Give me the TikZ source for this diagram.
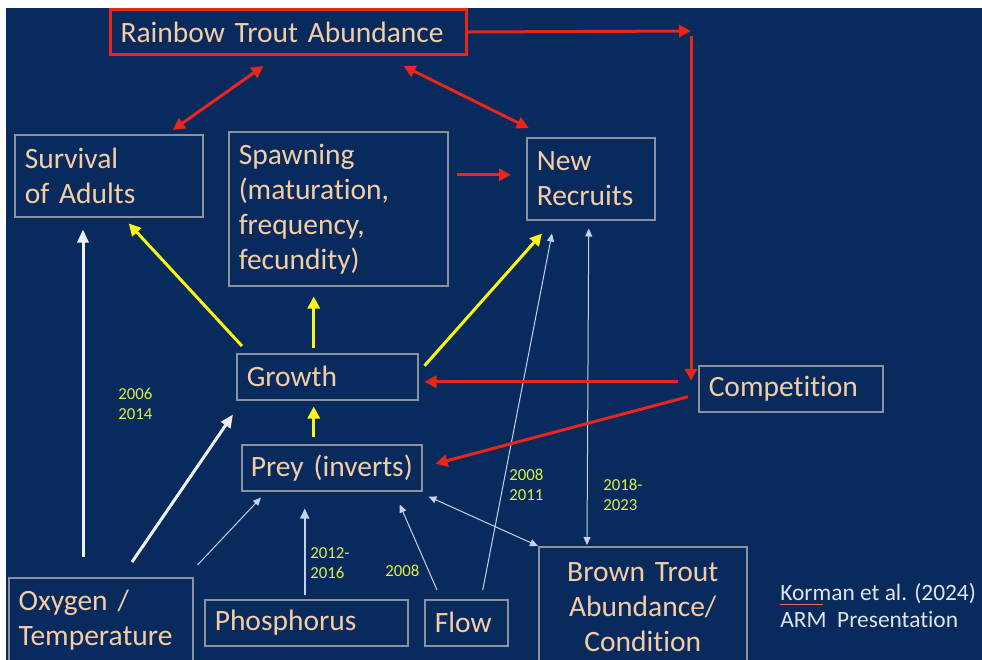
\documentclass[tikz,border=0pt]{standalone}
\usepackage{fontspec}
\setmainfont{Carlito}[Ligatures=NoCommon]
\usepackage{xcolor}
\usepackage{tikz}
\usetikzlibrary{arrows.meta,positioning}

\definecolor{slidebg}{RGB}{8,42,92}
\definecolor{boxgray}{RGB}{140,145,160}
\definecolor{peach}{RGB}{245,205,165}
\definecolor{linkred}{RGB}{232,38,30}
\definecolor{linkyellow}{RGB}{250,245,20}
\definecolor{yearcol}{RGB}{220,240,75}
\definecolor{linkwhite}{RGB}{240,242,248}
\definecolor{thinwhite}{RGB}{195,210,232}
\definecolor{citegray}{RGB}{225,228,235}

\begin{document}
\begin{tikzpicture}[
  x=0.5pt, y=-0.5pt,
  box/.style={draw=boxgray, line width=0.75pt, text=peach,
    font=\fontsize{14.75pt}{17.5pt}\selectfont, align=left,
    inner xsep=5pt, inner ysep=0pt, anchor=north west},
  keybox/.style={box, draw=linkred, line width=1.5pt},
  years/.style={text=yearcol, font=\fontsize{8.4pt}{10.3pt}\selectfont,
    align=left, anchor=west, inner sep=0pt},
  cite/.style={text=citegray, font=\fontsize{11.7pt}{13.5pt}\selectfont,
    anchor=base west, inner sep=0pt},
  redarr/.style={-{Triangle[length=6pt,width=6pt]}, linkred, line width=1.5pt},
  redboth/.style={redarr, {Triangle[length=6pt,width=6pt]}-{Triangle[length=6pt,width=6pt]}},
  yelarr/.style={-{Triangle[length=6pt,width=6pt]}, linkyellow, line width=1.5pt},
  whitearr/.style={-{Triangle[length=6.5pt,width=5.5pt]}, linkwhite, line width=1.5pt},
  midarr/.style={-{Triangle[length=5pt,width=4.5pt]}, thinwhite, line width=1pt},
  thinarr/.style={-{Triangle[length=4pt,width=3.5pt]}, thinwhite, line width=0.5pt},
  thinboth/.style={thinarr, {Triangle[length=4pt,width=3.5pt]}-{Triangle[length=4pt,width=3.5pt]}},
]

\useasboundingbox (0,0) rectangle (982,660);
\fill[white] (0,0) rectangle (982,660);
\fill[slidebg] (6,8) rectangle (982,660);
\clip (0,0) rectangle (982,660);

\node[keybox, minimum width=178pt, minimum height=22.5pt, text width=168pt]
  (rta) at (109,8) {Rainbow Trout Abundance};
\node[box, minimum width=94pt, minimum height=41pt, text width=84pt]
  (surv) at (14,134) {Survival\\of Adults};
\node[box, minimum width=109.5pt, minimum height=77pt, text width=99.5pt]
  (spawn) at (228,131) {\rule{0pt}{3pt}Spawning\\(maturation,\\frequency,\\fecundity)};
\node[box, minimum width=64pt, minimum height=41pt, text width=54pt]
  (recr) at (526,137) {New\\Recruits};
\node[box, minimum width=90.5pt, minimum height=23pt, text width=80.5pt]
  (growth) at (236,353) {Growth};
\node[box, minimum width=90pt, minimum height=23pt, text width=81pt, inner xsep=4.5pt]
  (prey) at (241,444) {Prey (inverts)};
\node[box, minimum width=92pt, minimum height=23pt, text width=82pt]
  (comp) at (698,365) {Competition};
\node[box, minimum width=92pt, minimum height=42pt, text width=82pt]
  (oxy) at (8,577) {Oxygen /\\Temperature};
\node[box, minimum width=101.5pt, minimum height=23pt, text width=91.5pt]
  (phos) at (204,599) {Phosphorus};
\node[box, minimum width=41.5pt, minimum height=23pt, text width=31.5pt]
  (flow) at (424,599) {Flow};
\node[box, minimum width=104pt, minimum height=60pt, text width=94pt, align=center]
  (brown) at (538,546) {Brown Trout\\Abundance/\\Condition};

\coordinate (turn) at (691,31);

% white links from the drivers
\draw[whitearr] ([shift={(75,-20)}]oxy.north west) -- ([shift={(69,12)}]surv.south west);
\draw[whitearr] ([shift={(124,-15)}]oxy.north west) -- ([shift={(-3,14)}]growth.south west);
\draw[thinarr] ([shift={(4,-12)}]oxy.north east) -- ([shift={(20,6)}]prey.south west);
\draw[midarr] ([shift={(-1.5,-4)}]phos.north) -- ([shift={(-27,17)}]prey.south);
\draw[thinarr] ([shift={(13,-9)}]flow.north west) -- ([shift={(68,13)}]prey.south);
\draw[thinarr] ([shift={(16.5,-9)}]flow.north) -- ([shift={(26,13)}]recr.south west);
\draw[thinboth] (brown.north west) -- ([shift={(6,5)}]prey.south east);
\draw[thinboth] ([shift={(-2,8)}]recr.south) -- ([shift={(49,-1)}]brown.north west);

% yellow links from growth
\draw[yelarr] ([shift={(6,-7)}]growth.north west) -- ([shift={(20,6)}]surv.south);
\draw[yelarr] ([shift={(-13.5,-5)}]growth.north) -- ([shift={(-24.5,10)}]spawn.south);
\draw[yelarr] ([shift={(6,-11)}]growth.east) -- ([shift={(16,13)}]recr.south west);
\draw[yelarr] ([shift={(-18,-7)}]prey.north) -- ([shift={(-13.5,6)}]growth.south);

% red links
\draw[redboth] ([shift={(-25,10)}]rta.south) -- ([shift={(64,-4)}]surv.north);
\draw[redboth] ([shift={(115,10)}]rta.south) -- ([shift={(-62,-9)}]recr.north);
\draw[redarr] ([shift={(8,-34)}]spawn.east) -- ([shift={(-15,-4)}]recr.west);
\draw[redarr] (rta.east) -- (turn);
\draw[redarr] ([shift={(0,5)}]turn) -- ([shift={(-7,-8)}]comp.west);
\draw[redarr] ([shift={(-20,-7)}]comp.west) -- ([shift={(6,5)}]growth.east);
\draw[redarr] ([shift={(-10,8)}]comp.west) -- ([shift={(13,-4)}]prey.east);

% years of evidence
\node[years] (y0614) at (118,404) {2006\\2014};
\node[years] (y1216) at (310,563) {2012-\\2016};
\node[years] (y08) at (385,571) {2008};
\node[years] (y0811) at (509,485) {2008\\2011};
\node[years] (y1823) at (603,495) {2018-\\2023};

% source
\node[cite] (src) at (780,600) {Korman et al. (2024)};
\node[cite] (srcb) at (780,627) {ARM\ \ Presentation};
\draw[linkred!70!white, line width=0.5pt] ([shift={(0,4)}]src.base west) -- ([shift={(43,4)}]src.base west);

\end{tikzpicture}
\end{document}
